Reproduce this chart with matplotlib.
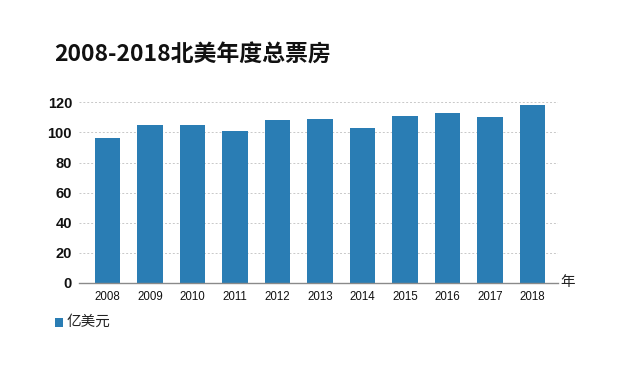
import matplotlib
matplotlib.use("Agg")
import matplotlib.pyplot as plt
from matplotlib.patches import Rectangle

plt.rcParams['font.family'] = ['Liberation Sans', 'Noto Sans CJK SC', 'DejaVu Sans']

years = ['2008', '2009', '2010', '2011', '2012', '2013', '2014', '2015', '2016', '2017', '2018']
box_office = [96, 105, 105, 101, 108, 109, 103, 111, 113, 110, 118]
yticks = [0, 20, 40, 60, 80, 100, 120]

title = '2008-2018北美年度总票房'
unit = '亿美元'
x_unit = '年'
bar_color = '#2a7db4'

fig = plt.figure(figsize=(6.2, 3.73), dpi=100)
W, H = 620, 373
# axes from x=79..558, y=102..283 (pixels)
ax = fig.add_axes([79 / W, 1 - 283 / H, (558 - 79) / W, (283 - 102.3) / H])

xs = list(range(len(years)))
ax.bar(xs, box_office, width=0.59, color=bar_color, zorder=2)

ax.set_xlim(-0.67, 10.6)
ax.set_ylim(0, 120)
ax.set_yticks(yticks)
ax.set_yticklabels([str(v) for v in yticks], fontsize=10.5, fontweight='bold', color='#111111')
ax.set_xticks(xs)
ax.set_xticklabels(years, fontsize=8.3, color='#111111')
ax.tick_params(axis='both', length=0)
ax.tick_params(axis='y', pad=5)
ax.tick_params(axis='x', pad=6)

ax.yaxis.grid(True, linestyle=(0, (2, 2)), color='#c8c8c8', linewidth=0.7, zorder=0)
for side in ['top', 'right', 'left']:
    ax.spines[side].set_visible(False)
ax.spines['bottom'].set_color('#8a8a8a')
ax.spines['bottom'].set_linewidth(1.0)
ax.spines['bottom'].set_zorder(3)

fig.text(568 / W, 1 - 282 / H, x_unit, fontsize=10.5, ha='center', va='center',
         family=['Noto Sans CJK SC', 'DejaVu Sans'], color='#222222')

fig.text(54 / W, 1 - 55 / H, title, fontsize=16.5, fontweight='heavy', ha='left', va='center',
         family=['Noto Sans CJK SC', 'DejaVu Sans'], color='#111111')

# legend
fig.patches.append(Rectangle((55 / W, 1 - 327 / H), 8 / W, 9 / H, transform=fig.transFigure,
                             facecolor=bar_color, edgecolor='none'))
fig.text(67 / W, 1 - 322 / H, unit, fontsize=10.5, ha='left', va='center',
         family=['Noto Sans CJK SC', 'DejaVu Sans'], color='#222222')

fig.savefig('out.png', dpi=100, facecolor='white')
